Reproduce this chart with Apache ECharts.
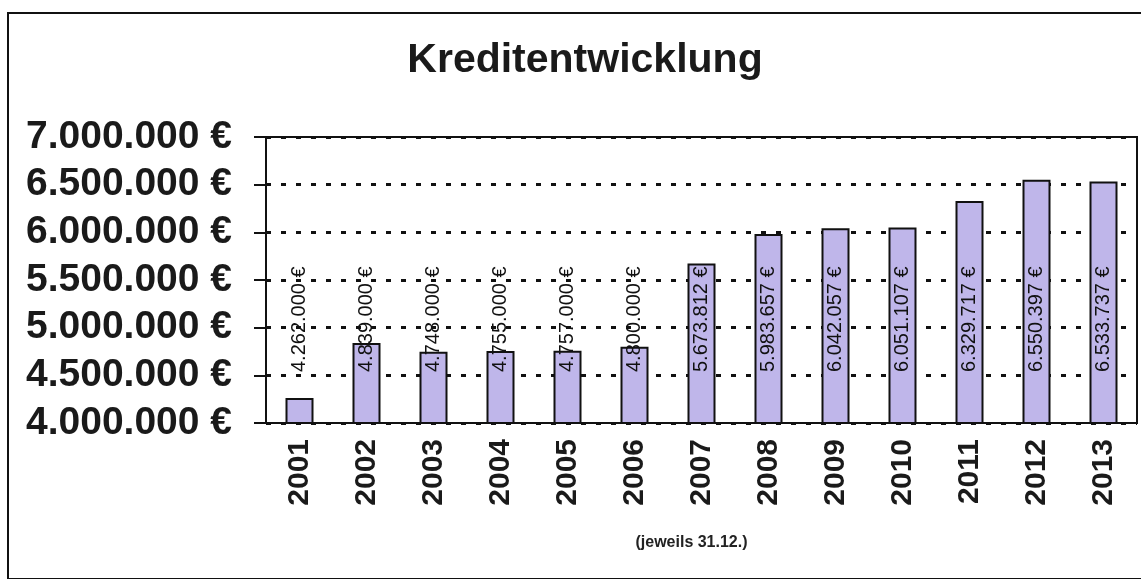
<!DOCTYPE html>
<html>
<head>
<meta charset="utf-8">
<title>Kreditentwicklung</title>
<script src="https://cdn.jsdelivr.net/npm/echarts@6/dist/echarts.min.js"></script>
<style>
    html, body { margin: 0; padding: 0; background: #fff; }
    #chart { width: 1141px; height: 579px; }
</style>
</head>
<body>
<div id="chart"></div>
<script>
    // Jahre (jeweils 31.12.)
    var years = ['2001', '2002', '2003', '2004', '2005', '2006', '2007',
                 '2008', '2009', '2010', '2011', '2012', '2013'];
    // Kreditvolumen in Euro
    var credits = [4262000, 4839000, 4748000, 4755000, 4757000, 4800000, 5673812,
                   5983657, 6042057, 6051107, 6329717, 6550397, 6533737];

    function euro(v) {
        return String(Math.round(v)).replace(/\B(?=(\d{3})+(?!\d))/g, '.') + ' €';
    }

    var font = 'Liberation Sans, Arial, sans-serif';
    var chart = echarts.init(document.getElementById('chart'));

    chart.setOption({
        animation: false,
        backgroundColor: '#fff',
        textStyle: { fontFamily: font },
        graphic: [
            {
                type: 'rect',
                shape: { x: 8, y: 13, width: 1150, height: 566 },
                style: { fill: 'none', stroke: '#111', lineWidth: 2 },
                silent: true
            },
            {
                type: 'text',
                x: 585, y: 40,
                style: {
                    text: 'Kreditentwicklung',
                    fontFamily: font, fontSize: 41, fontWeight: 'bold',
                    fill: '#1a1a1a', align: 'center'
                }
            }
        ],
        grid: {
            left: 266, right: 4, top: 137, bottom: 156,
            show: true, borderColor: '#111', borderWidth: 2
        },
        xAxis: {
            type: 'category',
            data: years,
            name: '(jeweils 31.12.)',
            nameLocation: 'middle',
            nameGap: 112,
            nameTextStyle: { fontSize: 16, fontWeight: 'bold', color: '#222', padding: [0, 20, 0, 0] },
            axisLine: { lineStyle: { color: '#111', width: 2 } },
            axisTick: { length: 14, lineStyle: { color: '#111', width: 2 } },
            axisLabel: {
                rotate: 90, margin: 16,
                fontSize: 30, fontWeight: 'bold', color: '#1a1a1a'
            }
        },
        yAxis: {
            type: 'value',
            min: 4000000, max: 7000000, interval: 500000,
            axisLine: { show: true, lineStyle: { color: '#111', width: 2 } },
            axisTick: { show: true, length: 12, lineStyle: { color: '#111', width: 2 } },
            axisLabel: {
                margin: 34, fontSize: 39, fontWeight: 'bold', color: '#1a1a1a',
                formatter: euro
            },
            splitLine: {
                lineStyle: { color: '#111', width: 3, type: [5, 10] }
            }
        },
        series: [{
            type: 'bar',
            data: credits,
            barWidth: 28,
            itemStyle: { color: '#bfb6ea', borderColor: '#111', borderWidth: 2 },
            label: {
                show: true,
                position: 'insideBottom',
                distance: 52,
                rotate: 90,
                align: 'left',
                verticalAlign: 'middle',
                fontSize: 20,
                color: '#111',
                formatter: function (p) { return euro(p.value); }
            }
        }]
    });
</script>
</body>
</html>
